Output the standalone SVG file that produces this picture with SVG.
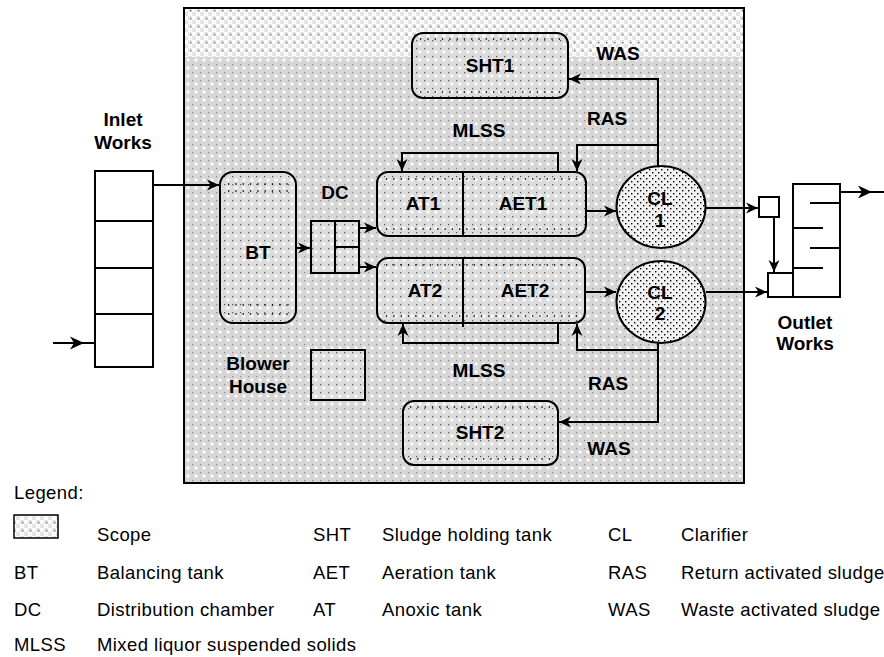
<svg xmlns="http://www.w3.org/2000/svg" width="884" height="657" viewBox="0 0 884 657">
<defs>
<pattern id="bg" width="8" height="8" patternUnits="userSpaceOnUse">
<rect width="8" height="8" fill="#d6d6d6"/>
<path d="M4 2.2 V5.8 M2.2 4 H5.8" stroke="#ffffff" stroke-width="1.4"/>
<rect x="0" y="0" width="1.2" height="1.2" fill="#8a8a8a"/>
</pattern>
<pattern id="bg2" width="8" height="8" patternUnits="userSpaceOnUse">
<rect width="8" height="8" fill="#e4e4e4"/>
<rect x="0" y="0" width="4" height="4" fill="#ffffff"/>
<rect x="4" y="4" width="4" height="4" fill="#ffffff"/>
<rect x="6" y="2" width="1.3" height="1.3" fill="#666"/>
</pattern>
<pattern id="node" width="8" height="8" patternUnits="userSpaceOnUse">
<rect width="8" height="8" fill="#dcdcdc"/>
<path d="M4 2.2 V5.8 M2.2 4 H5.8" stroke="#ffffff" stroke-width="1.4"/>
<rect x="0" y="0" width="1.2" height="1.2" fill="#555"/>
</pattern>
<pattern id="cl" width="6" height="6" patternUnits="userSpaceOnUse">
<rect width="6" height="6" fill="#f2f2f2"/>
<rect x="1" y="1" width="1.4" height="1.4" fill="#000"/>
<rect x="4" y="4" width="1.4" height="1.4" fill="#000"/>
</pattern>
<marker id="ah" markerUnits="userSpaceOnUse" markerWidth="14" markerHeight="12" refX="12" refY="6" orient="auto">
<path d="M0,0.5 L12,6 L0,11.5 L3.5,6 Z" fill="#000"/>
</marker>
<marker id="am" markerUnits="userSpaceOnUse" markerWidth="16" markerHeight="14" refX="8" refY="7" orient="auto">
<path d="M0,0.5 L14,7 L0,13.5 L4,7 Z" fill="#000"/>
</marker>
</defs>
<style>
.lbl{font-family:"Liberation Sans",Arial,sans-serif;font-weight:bold;font-size:19px;text-anchor:middle;fill:#000}
.lg{font-family:"Liberation Sans",Arial,sans-serif;font-size:18.5px;fill:#000;letter-spacing:0.4px}
.box{stroke:#000;stroke-width:2}
.wbox{fill:#fff;stroke:#000;stroke-width:2}
.c{fill:none;stroke:#000;stroke-width:2}
.dot{fill:none;stroke:#000;stroke-width:1.3;stroke-dasharray:1.3 6}
</style>

<g id="scope">
<rect x="184" y="8" width="560" height="475" fill="url(#bg)"/>
<rect x="185" y="9" width="558" height="48" fill="url(#bg2)"/>
<rect x="184" y="8" width="560" height="475" fill="none" stroke="#000" stroke-width="2"/>
</g>

<g id="inlet-works">
<rect class="wbox" x="95" y="171" width="58" height="196"/>
<path d="M95 221 H153 M95 268 H153 M95 314 H153" class="c"/>
<text class="lbl" x="123" y="126">Inlet</text>
<text class="lbl" x="123" y="149">Works</text>
</g>

<g id="BT">
<rect class="box" x="220" y="172" width="76" height="151" rx="13" fill="url(#node)"/>
<path class="dot" d="M228 184 H290 M228 191 H290 M228 305 H290 M228 314 H290"/>
<text class="lbl" x="258" y="259">BT</text>
</g>

<g id="DC">
<rect x="311" y="221" width="48" height="52" fill="url(#node)" class="box"/>
<path class="c" d="M335 221 V273 M335 247 H359"/>
<text class="lbl" x="335" y="199">DC</text>
</g>

<g id="AT1-AET1">
<rect class="box" x="377" y="172" width="209" height="64" rx="11" fill="url(#node)"/>
<path class="dot" d="M386 179 H580 M386 229 H580"/>
<path class="c" d="M463 172 V236"/>
<text class="lbl" x="423" y="210">AT1</text>
<text class="lbl" x="523" y="210">AET1</text>
</g>

<g id="AT2-AET2">
<rect class="box" x="377" y="258" width="208" height="65" rx="11" fill="url(#node)"/>
<path class="dot" d="M386 265 H579 M386 316 H579"/>
<path class="c" d="M463 258 V327"/>
<text class="lbl" x="425" y="297">AT2</text>
<text class="lbl" x="525" y="297">AET2</text>
</g>

<g id="SHT1">
<rect class="box" x="412" y="33" width="156" height="65" rx="11" fill="url(#node)"/>
<path class="dot" d="M420 39 H562 M420 92 H562"/>
<text class="lbl" x="490" y="72">SHT1</text>
</g>

<g id="SHT2">
<rect class="box" x="403" y="401" width="155" height="64" rx="11" fill="url(#node)"/>
<path class="dot" d="M410 407 H552 M410 459 H552"/>
<text class="lbl" x="480" y="439">SHT2</text>
</g>

<g id="CL1">
<ellipse class="box" cx="661" cy="207" rx="44.5" ry="41" fill="url(#cl)"/>
<text class="lbl" x="660" y="205">CL</text>
<text class="lbl" x="660" y="227">1</text>
</g>

<g id="CL2">
<ellipse class="box" cx="661" cy="302" rx="44.5" ry="41" fill="url(#cl)"/>
<text class="lbl" x="660" y="299">CL</text>
<text class="lbl" x="660" y="320">2</text>
</g>

<g id="blower-house">
<rect x="311" y="350" width="54" height="50" fill="url(#node)" class="box"/>
<text class="lbl" x="258" y="370">Blower</text>
<text class="lbl" x="258" y="393">House</text>
</g>

<g id="outlet-works">
<rect class="wbox" x="759" y="197" width="20" height="20"/>
<rect class="wbox" x="768" y="273" width="25" height="24"/>
<rect class="wbox" x="793" y="184" width="47" height="113"/>
<path class="c" d="M810 203 H840 M793 228 H823 M810 248 H840 M793 268 H823"/>
<text class="lbl" x="805" y="329">Outlet</text>
<text class="lbl" x="805" y="350">Works</text>
</g>

<g id="flow-labels">
<text class="lbl" x="479" y="137">MLSS</text>
<text class="lbl" x="479" y="377">MLSS</text>
<text class="lbl" x="618" y="60">WAS</text>
<text class="lbl" x="607" y="125">RAS</text>
<text class="lbl" x="608" y="390">RAS</text>
<text class="lbl" x="609" y="455">WAS</text>
</g>

<g id="connectors">
<polyline class="c" points="53,343 78,343 95,343" marker-mid="url(#am)"/>
<polyline class="c" points="840,192 866,192 884,192" marker-mid="url(#am)"/>
<path class="c" d="M153 185 H219" marker-end="url(#ah)"/>
<path class="c" d="M296 248 H310" marker-end="url(#ah)"/>
<path class="c" d="M359 228 H376" marker-end="url(#ah)"/>
<path class="c" d="M359 267 H376" marker-end="url(#ah)"/>
<path class="c" d="M558 172 V153 H402 V171" marker-end="url(#ah)"/>
<path class="c" d="M658 166 V79 H569" marker-end="url(#ah)"/>
<path class="c" d="M658 145 H577 V171" marker-end="url(#ah)"/>
<path class="c" d="M586 211 H616" marker-end="url(#ah)"/>
<path class="c" d="M585 292 H616" marker-end="url(#ah)"/>
<path class="c" d="M558 323 V343 H403 V324" marker-end="url(#ah)"/>
<path class="c" d="M658 343 V422 H559" marker-end="url(#ah)"/>
<path class="c" d="M658 350 H577 V324" marker-end="url(#ah)"/>
<path class="c" d="M706 208 H758" marker-end="url(#ah)"/>
<path class="c" d="M774 217 V272" marker-end="url(#ah)"/>
<path class="c" d="M706 292 H767" marker-end="url(#ah)"/>
</g>

<g id="legend">
<text class="lg" x="14" y="499">Legend:</text>
<rect x="14" y="515" width="44" height="23" fill="url(#bg2)" stroke="#000" stroke-width="1.5"/>
<text class="lg" x="97" y="541">Scope</text>
<text class="lg" x="313" y="541">SHT</text>
<text class="lg" x="382" y="541">Sludge holding tank</text>
<text class="lg" x="608" y="541">CL</text>
<text class="lg" x="681" y="541">Clarifier</text>
<text class="lg" x="14" y="579">BT</text>
<text class="lg" x="97" y="579">Balancing tank</text>
<text class="lg" x="313" y="579">AET</text>
<text class="lg" x="382" y="579">Aeration tank</text>
<text class="lg" x="608" y="579">RAS</text>
<text class="lg" x="681" y="579">Return activated sludge</text>
<text class="lg" x="14" y="616">DC</text>
<text class="lg" x="97" y="616">Distribution chamber</text>
<text class="lg" x="313" y="616">AT</text>
<text class="lg" x="382" y="616">Anoxic tank</text>
<text class="lg" x="608" y="616">WAS</text>
<text class="lg" x="681" y="616">Waste activated sludge</text>
<text class="lg" x="14" y="651">MLSS</text>
<text class="lg" x="97" y="651">Mixed liquor suspended solids</text>
</g>
</svg>
